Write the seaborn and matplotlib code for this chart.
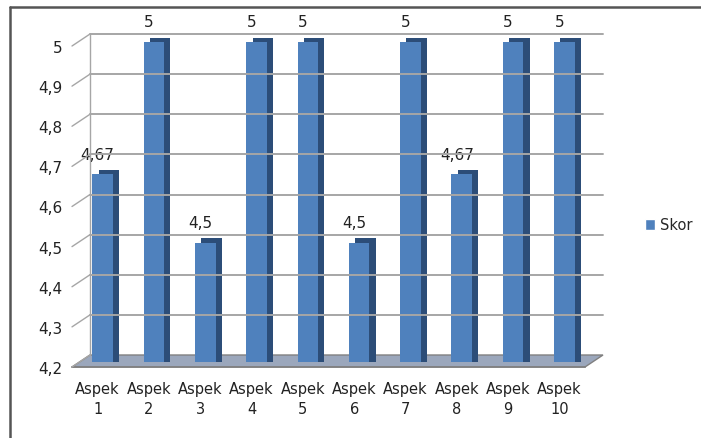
import numpy as np
import pandas as pd
import matplotlib
matplotlib.use("Agg")
import matplotlib.pyplot as plt
import matplotlib.patheffects as pe
import matplotlib.transforms as mtransforms
from matplotlib.patches import Polygon, Rectangle
from matplotlib.lines import Line2D
from matplotlib.ticker import FuncFormatter, FixedLocator
import seaborn as sns

# data
aspects = ["Aspek\n1", "Aspek\n2", "Aspek\n3", "Aspek\n4", "Aspek\n5",
           "Aspek\n6", "Aspek\n7", "Aspek\n8", "Aspek\n9", "Aspek\n10"]
scores = [4.67, 5, 4.5, 5, 5, 4.5, 5, 4.67, 5, 5]
score_labels = ["4,67", "5", "4,5", "5", "5", "4,5", "5", "4,67", "5", "5"]
y_ticks = [4.2, 4.3, 4.4, 4.5, 4.6, 4.7, 4.8, 4.9, 5.0]
series_name = "Skor"

df = pd.DataFrame({"aspek": aspects, "skor": scores})

sns.set_style("white")
plt.rcParams["font.family"] = ["DejaVu Sans"]

fig = plt.figure(figsize=(7.01, 4.39), dpi=100)
ax = fig.add_axes([72 / 701, 1 - 368 / 439, 513 / 701, 321 / 439])

front = "#4f81bd"
side = "#2c4d78"
sns.barplot(data=df, x="aspek", y="skor", color=front, width=0.4,
            saturation=1, ax=ax, zorder=3)
# bars sit half way into the 3D depth
bar_shift = mtransforms.ScaledTranslation(5 / 100, 4 / 100, fig.dpi_scale_trans)
clip = Rectangle((0, 5 / 321), 1.2, 1.2, transform=ax.transAxes)
for p in ax.patches:
    p.set_linewidth(0)
    p.set_transform(ax.transData + bar_shift)
    p.set_clip_path(clip)
    p.set_path_effects([pe.SimplePatchShadow(offset=(4.5, 3.0), shadow_rgbFace=side,
                                             alpha=1.0), pe.Normal()])

ax.set_ylim(4.2, 5.0)
ax.set_xlim(-0.5, len(aspects) - 0.5)

# back wall grid, shifted like the 3D original
dx, dy = 18, 12
grid_c = "#a6a6a6"
inv = fig.transFigure.inverted()
for v in y_ticks:
    x0, y0 = ax.transData.transform((-0.5, v))
    x1, _ = ax.transData.transform((len(aspects) - 0.5, v))
    a = inv.transform((x0, y0))
    b = inv.transform((x0 + dx, y0 + dy))
    c = inv.transform((x1 + dx, y0 + dy))
    fig.add_artist(Line2D([a[0], b[0]], [a[1], b[1]], color=grid_c, lw=1.0, zorder=1))
    if v > y_ticks[0]:
        fig.add_artist(Line2D([b[0], c[0]], [b[1], c[1]], color=grid_c, lw=1.4, zorder=1))
# left back edge
x0, y0 = ax.transData.transform((-0.5, 4.2))
x1, y1 = ax.transData.transform((-0.5, 5.0))
a = inv.transform((x0 + dx, y0 + dy))
b = inv.transform((x1 + dx, y1 + dy))
fig.add_artist(Line2D([a[0], b[0]], [a[1], b[1]], color=grid_c, lw=1.0))

# floor
fx, fy = dx / 513, dy / 321
ax.add_patch(Polygon([(0, 0), (1, 0), (1 + fx, fy), (fx, fy)], closed=True,
                     transform=ax.transAxes, facecolor="#9ba7bc", edgecolor="#808080",
                     lw=1.0, clip_on=False, zorder=2))

for s in ["top", "right", "left"]:
    ax.spines[s].set_visible(False)
ax.spines["bottom"].set_color("#808080")
ax.spines["bottom"].set_linewidth(1.2)

ax.yaxis.set_major_locator(FixedLocator(y_ticks))
ax.yaxis.set_major_formatter(FuncFormatter(lambda v, _: f"{v:g}".replace(".", ",")))
ax.tick_params(axis="y", length=4, color="#808080", labelsize=11, labelcolor="#222222", pad=3)
ax.tick_params(axis="x", which="major", length=0, labelsize=10.5, labelcolor="#222222", pad=10)
ax.set_xticks(np.arange(-0.5, len(aspects), 1), minor=True)
ax.tick_params(axis="x", which="minor", length=7, color="#808080", width=1.2)
ax.set_xlabel("")
ax.set_ylabel("")
for lab in ax.get_xticklabels():
    lab.set_linespacing(1.45)

ax.bar_label(ax.containers[0], labels=score_labels, padding=12, fontsize=11,
             color="#222222", clip_on=False)

handle = Rectangle((0, 0), 1, 1, facecolor=front)
fig.legend([handle], [series_name], loc="center left", bbox_to_anchor=(632 / 701, 1 - 226 / 439),
           frameon=False, fontsize=10.5, handlelength=0.7, handleheight=0.7, handletextpad=0.3)

# outer chart frame (left and top edges visible)
frame_c = "#555555"
fig.add_artist(Line2D([10 / 701, 10 / 701], [0, 1 - 8 / 439], color=frame_c, lw=1.8))
fig.add_artist(Line2D([10 / 701, 1], [1 - 8 / 439, 1 - 8 / 439], color=frame_c, lw=1.8))

fig.savefig("out.png", dpi=100)
